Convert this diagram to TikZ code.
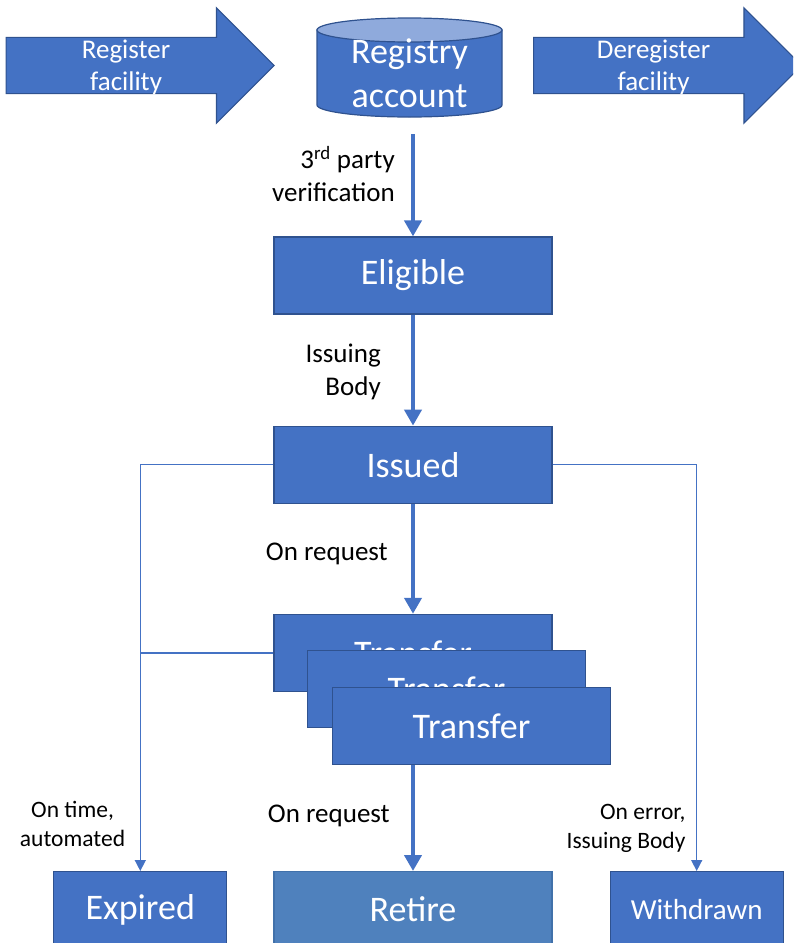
\documentclass[tikz,border=0pt]{standalone}
\usepackage{fontspec}
\setmainfont{Carlito}
\usepackage{tikz}
\usetikzlibrary{shapes.geometric, shapes.arrows, arrows.meta, positioning}
\definecolor{officeblue}{RGB}{68, 114, 196}
\definecolor{officeedge}{RGB}{47, 82, 143}
\definecolor{officelight}{RGB}{143, 170, 220}
\definecolor{retireblue}{RGB}{79, 129, 189}
\definecolor{retireedge}{RGB}{65, 113, 170}

\begin{document}
\begin{tikzpicture}[
    x=1pt, y=-1pt,
    state/.style={rectangle, draw=officeedge, fill=officeblue, line width=1.2pt, text=white, minimum width=278pt, minimum height=77pt, inner sep=0pt, font=\fontsize{36}{44}\selectfont},
    endstate/.style={state, minimum width=173pt, minimum height=76pt},
    bigarrow/.style={single arrow, draw=officeedge, fill=officeblue, line width=1.2pt, text=white, align=center, minimum height=268pt, single arrow head extend=29.5pt, single arrow tip angle=90, inner xsep=0pt, inner ysep=2.25pt, text depth=0pt, font=\fontsize{27}{32}\selectfont},
    flow/.style={-{Triangle[width=17pt, length=16pt]}, line width=4.5pt, officeblue},
    thinflow/.style={line width=1.5pt, officeblue},
    note/.style={inner sep=0pt, align=right, text=black, font=\fontsize{27}{33}\selectfont},
    smallnote/.style={inner sep=0pt, align=right, text=black, font=\fontsize{23.5}{29}\selectfont}
]
    \useasboundingbox (0,0) rectangle (793,943);
    \clip (0,0) rectangle (793,943);

    % States
    \node[state] (eligible) at (413,275.5) {Eligible};
    \node[state, below=111pt of eligible] (issued) {Issued};
    \node[state, below=110pt of issued] (transfer1) {Transfer};
    \node[state] (transfer2) at ([shift={(33.5,36)}]transfer1) {Transfer};
    \node[state] (transfer3) at ([shift={(25,37)}]transfer2) {Transfer};
    \node[state, draw=retireedge, fill=retireblue, minimum height=76pt, below=106pt of transfer3, xshift=-58.5pt] (retire) {Retire};
    \node[endstate, left=46pt of retire] (expired) {Expired};
    \node[endstate, right=57pt of retire, font=\fontsize{29}{35}\selectfont] (withdrawn) {Withdrawn};

    % Registry (drum)
    \draw[officeedge, line width=1.2pt, fill=officeblue] (317,30) -- (317,105)
        arc[start angle=180, end angle=360, x radius=92.5pt, y radius=12pt] -- (502,30) -- cycle;
    \draw[officeedge, line width=1.2pt, fill=officelight] (409.5,30) ellipse [x radius=92.5pt, y radius=12pt];
    \node[inner sep=0pt, text=white, align=center, font=\fontsize{36}{44}\selectfont] (regacc) at (409.5,73.5) {Registry\\account};
    \node[bigarrow, anchor=east] (register) at (275,65.5) {Register\\facility};
    \node[bigarrow, anchor=west] (deregister) at (533,65.5) {Deregister\\facility};

    % Main flow
    \draw[flow, shorten <=26pt] (regacc.south -| eligible.north) -- (eligible.north)
        node[midway, note, left=16pt, yshift=-2pt] {3\textsuperscript{rd} party\\verification};
    \draw[flow] (eligible) -- (issued)
        node[midway, note, left=30pt, yshift=-2pt] {Issuing\\Body};
    \draw[flow] (issued) -- (transfer1)
        node[midway, note, left=23pt, yshift=5pt] {On request};
    \draw[flow] (transfer3.south -| retire.north) -- (retire.north)
        node[midway, note, left=21pt, yshift=2pt] {On request};

    % Side branches
    \draw[thinflow, -{Triangle[width=11pt, length=11pt]}] (issued.west) -| (expired.north);
    \draw[thinflow] (transfer1.west) -- (transfer1.west -| expired.north);
    \draw[thinflow, -{Triangle[width=11pt, length=11pt]}] (issued.east) -| (withdrawn.north);

    \node[smallnote, align=center, above left=24pt and 15pt of expired.north] {On time,\\automated};
    \node[smallnote, above left=18pt and 11pt of withdrawn.north] {On error,\\Issuing Body};
\end{tikzpicture}
\end{document}
